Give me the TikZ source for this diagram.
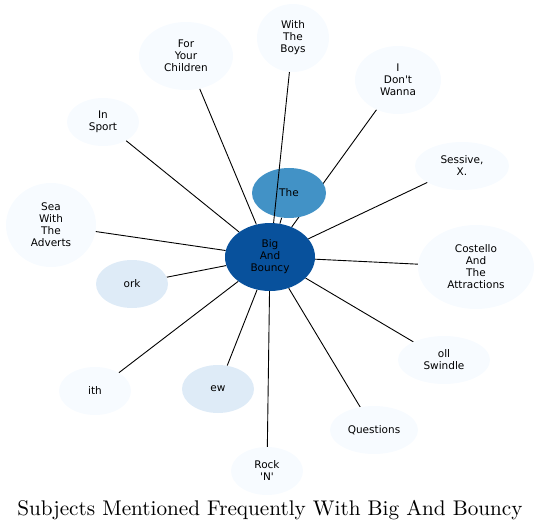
\documentclass[tikz,border=0pt]{standalone}
\usepackage{fontspec}
\newfontfamily\nodefont{DejaVu Sans}
\usetikzlibrary{shapes.geometric}
\pgfdeclarelayer{background}
\pgfdeclarelayer{foreground}
\pgfsetlayers{background,main,foreground}
\definecolor{hub}{HTML}{08519C}
\definecolor{mid}{HTML}{4292C6}
\definecolor{pale}{HTML}{DEEBF7}
\definecolor{faint}{HTML}{F7FBFF}
\tikzset{
  bub/.style={ellipse, inner sep=0pt, align=center, fill=faint,
    font=\nodefont\fontsize{10.5}{12}\selectfont},
  edge/.style={draw=black, line width=0.9pt},
}
\begin{document}
\begin{tikzpicture}[x=1pt,y=-1pt]
\useasboundingbox (0,0) rectangle (541,532);
\node[bub, fill=hub, minimum width=90, minimum height=68] (big) at (270,257) {Big\\And\\Bouncy};
\node[bub, fill=mid, minimum width=74, minimum height=50] (the) at (289,193) {The};
\node[bub, minimum width=94, minimum height=68] (kids) at (186,56) {For\\Your\\Children};
\node[bub, minimum width=72, minimum height=68] (boys) at (293,38) {With\\The\\Boys};
\node[bub, minimum width=86, minimum height=68] (wanna) at (398,80) {I\\Don't\\Wanna};
\node[bub, minimum width=72, minimum height=48] (sport) at (103,122) {In\\Sport};
\node[bub, minimum width=94, minimum height=48] (sessive) at (462,166) {Sessive,\\X.};
\node[bub, minimum width=90, minimum height=84] (sea) at (51,225) {Sea\\With\\The\\Adverts};
\node[bub, minimum width=116, minimum height=84] (costello) at (476,267) {Costello\\And\\The\\Attractions};
\node[bub, fill=pale, minimum width=72, minimum height=48] (ork) at (132,284) {ork};
\node[bub, minimum width=92, minimum height=48] (swindle) at (444,360) {oll\\Swindle};
\node[bub, minimum width=72, minimum height=48] (ith) at (95,391) {ith};
\node[bub, fill=pale, minimum width=72, minimum height=48] (ew) at (218,389) {ew};
\node[bub, minimum width=88, minimum height=48] (questions) at (374,430) {Questions};
\node[bub, minimum width=72, minimum height=48] (rock) at (267,471) {Rock\\'N'};
\node[font=\fontsize{10}{12}\selectfont, scale=2.12, inner sep=0pt] (title) at (270,510) {Subjects Mentioned Frequently With Big And Bouncy};
\begin{pgfonlayer}{background}
\foreach \t in {the,kids,wanna,sport,sessive,sea,costello,ork,swindle,ith,ew,questions,rock}
  \draw[edge] (big) -- (\t);
\end{pgfonlayer}
\begin{pgfonlayer}{foreground}
\draw[edge] (big) -- (boys);
\end{pgfonlayer}
\end{tikzpicture}
\end{document}
